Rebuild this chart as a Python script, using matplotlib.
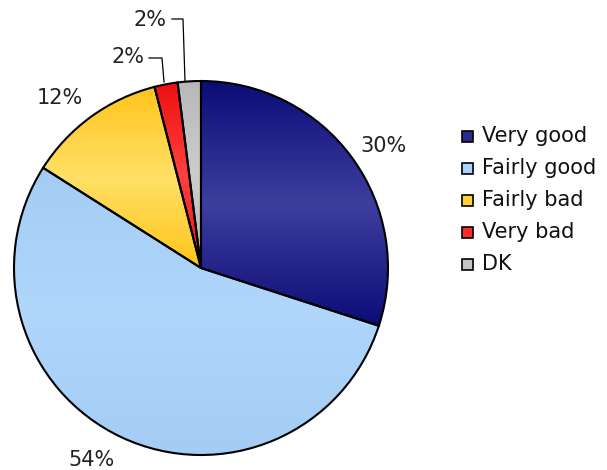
import matplotlib.pyplot as plt
import numpy as np
from matplotlib.colors import LinearSegmentedColormap
from matplotlib.patches import Rectangle

labels = ['Very good', 'Fairly good', 'Fairly bad', 'Very bad', 'DK']
values = [30, 54, 12, 2, 2]
pct_text = ['30%', '54%', '12%', '2%', '2%']
# edge colour / centre colour of each slice gradient
edge_cols = ['#0c0c78', '#a4ccf4', '#ffc41c', '#ee1010', '#b8b8b8']
mid_cols = ['#3e3e9e', '#b0d6fc', '#ffe066', '#ff4040', '#cccccc']
legend_cols = ['#2a2a8c', '#aad2fa', '#ffd23c', '#ff2a2a', '#c4c4c4']

W, H = 607, 470
fig = plt.figure(figsize=(W / 100, H / 100), dpi=100)
ax = fig.add_axes([0, 0, 1, 1])

cx, cy, r = 201, H - 268, 187
wedges, _ = ax.pie(values, startangle=90, counterclock=False, center=(cx, cy), radius=r,
                   wedgeprops=dict(edgecolor='black', linewidth=1.5, facecolor='none'),
                   frame=True)

for w, c0, c1 in zip(wedges, edge_cols, mid_cols):
    t = np.radians(np.linspace(w.theta1, w.theta2, 200))
    ys = np.concatenate([cy + r * np.sin(t), [cy]])
    xs = np.concatenate([cx + r * np.cos(t), [cx]])
    cmap = LinearSegmentedColormap.from_list('g', [c0, c1, c0])
    grad = np.linspace(0, 1, 256).reshape(-1, 1)
    im = ax.imshow(grad, cmap=cmap, aspect='auto', origin='lower',
                   extent=[xs.min(), xs.max(), ys.min(), ys.max()], zorder=1)
    im.set_clip_path(w)
    w.set_zorder(2)

ax.set_xlim(0, W)
ax.set_ylim(0, H)
ax.set_aspect('equal')
ax.axis('off')

fs = 15
tc = '#222222'
ax.text(383, H - 146, pct_text[0], fontsize=fs, ha='center', va='center', color=tc)
ax.text(91, H - 460, pct_text[1], fontsize=fs, ha='center', va='center', color=tc)
ax.text(60, H - 98, pct_text[2], fontsize=fs, ha='center', va='center', color=tc)
ax.text(128, H - 57, pct_text[3], fontsize=fs, ha='center', va='center', color=tc)
ax.text(150, H - 20, pct_text[4], fontsize=fs, ha='center', va='center', color=tc)
ax.plot([149, 162, 164], [H - 58, H - 58, H - 82], color='black', lw=0.9)
ax.plot([172, 183, 185], [H - 19, H - 19, H - 81], color='black', lw=0.9)

for i, (lab, col) in enumerate(zip(labels, legend_cols)):
    y = H - (136 + i * 32)
    ax.add_patch(Rectangle((462, y - 5.5), 11, 11, facecolor=col, edgecolor='black', lw=1.2, zorder=3))
    ax.text(482, y, lab, fontsize=15, va='center', ha='left', color='#111111')

fig.savefig('out.png', dpi=100)
